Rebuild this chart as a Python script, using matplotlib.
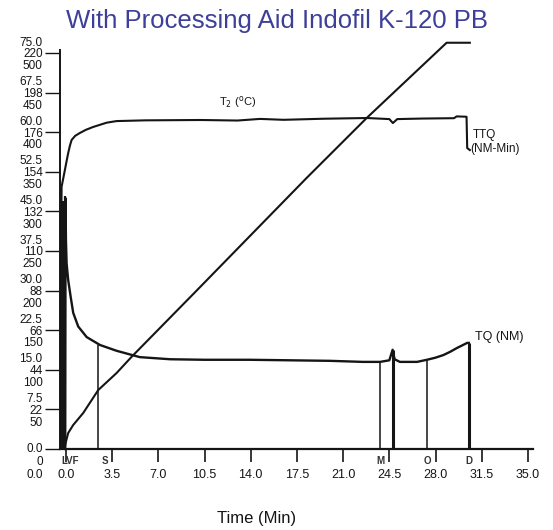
import numpy as np
import matplotlib
matplotlib.use("Agg")
import matplotlib.pyplot as plt
from matplotlib.transforms import ScaledTranslation, blended_transform_factory

plt.rcParams['font.family'] = ['Liberation Sans', 'DejaVu Sans']

# --- datos ---
# par motor TQ (NM) frente al tiempo (min)
time_tq = [-0.06, -0.03, 0.0, 0.05, 0.17, 0.36, 0.55, 0.93, 1.57, 2.58, 3.84, 5.6, 7.9,
           10.5, 13.9, 17.0, 20.0, 22.5, 23.8, 24.5, 24.75, 24.9, 25.3, 26.6, 27.35,
           28.0, 28.6, 29.1, 29.6, 30.0, 30.4, 30.52]
tq_nm = [0, 47.5, 39.6, 35.2, 32.0, 28.8, 25.8, 23.2, 21.2, 19.7, 18.6, 17.4, 17.0,
         16.9, 16.9, 16.8, 16.7, 16.5, 16.5, 16.8, 18.8, 17.0, 16.5, 16.5, 16.9,
         17.3, 17.8, 18.4, 19.1, 19.6, 20.1, 20.1]

# temperatura T2 (C)
time_temp = [-0.36, -0.33, -0.2, -0.08, 0.05, 0.17, 0.3, 0.43, 0.7, 1.06, 1.5, 2.05, 3.08,
             3.84, 6.0, 10.2, 13.0, 14.7, 16.5, 19.5, 22.8, 24.5, 24.77, 25.1, 27.0, 29.4,
             29.6, 30.35, 30.4, 30.6]
temp_c = [118, 145.7, 150.5, 155.0, 160.0, 164.4, 168.5, 171.7, 174.0, 175.6, 177.3, 178.9,
          181.3, 182.2, 182.6, 182.8, 182.5, 183.4, 182.9, 183.5, 183.9, 183.3, 181.1, 183.3,
          183.6, 183.8, 184.8, 184.6, 167.2, 166.1]

# par total TTQ (NM-Min)
time_ttq = [-0.08, -0.04, 0.0, 0.17, 0.55, 1.31, 2.45, 3.84, 4.98, 9.87, 18.23, 22.78, 28.84, 30.6]
ttq_nmmin = [2, 6, 9.2, 20.2, 30.3, 45.5, 74.5, 96.0, 116.5, 199.5, 342.2, 417.9, 513.0, 513.0]

# eventos (L, V, F, S, M, -, O, D)
event_names = ['L', 'V', 'F', 'S', 'M', '', 'O', 'D']
event_times = [-0.38, -0.22, -0.06, 2.45, 23.8, 24.75, 27.35, 30.52]
event_tq = [46, 47, 48, 19.7, 16.5, 18.8, 16.9, 20.1]
event_thick = [1.6, 1.6, 1.6, 1.1, 1.1, 2.2, 1.1, 2.2]

# etiquetas de los ejes
x_ticks = [0.0, 3.5, 7.0, 10.5, 14.0, 17.5, 21.0, 24.5, 28.0, 31.5, 35.0]
tq_ticks = ['0.0', '7.5', '15.0', '22.5', '30.0', '37.5', '45.0', '52.5', '60.0', '67.5', '75.0']
temp_ticks = ['0', '22', '44', '66', '88', '110', '132', '154', '176', '198', '220']
ttq_ticks = ['0.0', '50', '100', '150', '200', '250', '300', '350', '400', '450', '500']

ink = '#151515'
TQ_MAX = 75.5

fig = plt.figure(figsize=(5.53, 5.30), dpi=100)
ax = fig.add_axes([60 / 553, 81 / 530, 473.2 / 553, 398.6 / 530])
ax.set_xlim(-0.45, 35.4)
ax.set_ylim(0, TQ_MAX)

ax_t = ax.twinx()
ax_t.set_ylim(0, TQ_MAX * 220 / 75)
ax_t.axis('off')
ax_q = ax.twinx()
ax_q.set_ylim(0, TQ_MAX * 500 / 75)
ax_q.axis('off')

ax.plot(time_tq, tq_nm, color=ink, lw=1.7, clip_on=False)
ax_t.plot(time_temp, temp_c, color=ink, lw=1.5, clip_on=False)
ax_q.plot(time_ttq, ttq_nmmin, color=ink, lw=1.5, clip_on=False)

for t, h, w in zip(event_times, event_tq, event_thick):
    ax.plot([t, t], [0, h], color=ink, lw=w, solid_capstyle='butt', clip_on=False)

# letras de eventos bajo el eje
tb = blended_transform_factory(ax.transData, ax.transAxes)
ax.text(0.3, -0.031, 'LVF', transform=tb, ha='center', va='center', fontsize=7,
        fontweight='bold', color='#333333')
for name, t in zip(event_names[3:], event_times[3:]):
    if name:
        dx = 0.5 if name == 'S' else 0.0
        ax.text(t + dx, -0.031, name, transform=tb, ha='center', va='center', fontsize=7,
                fontweight='bold', color='#333333')

# ejes
for s in ['top', 'right']:
    ax.spines[s].set_visible(False)
ax.spines['left'].set_linewidth(1.4)
ax.spines['bottom'].set_linewidth(1.6)
ax.spines['left'].set_color(ink)
ax.spines['bottom'].set_color(ink)

ax.set_yticks(np.arange(0, 75.1, 7.5))
ax.set_yticklabels(['%s\n%s\n%s' % z for z in zip(tq_ticks, temp_ticks, ttq_ticks)],
                   linespacing=0.98)
ax.tick_params(axis='y', direction='out', length=10.5, width=1.0, pad=2, labelsize=8.5,
               colors=ink)
lab0 = ax.get_yticklabels()[0]
lab0.set_va('top')
lab0.set_linespacing(1.08)
lab0.set_transform(lab0.get_transform() + ScaledTranslation(0, 4 / 72, fig.dpi_scale_trans))

ax.set_xticks(x_ticks)
ax.set_xticklabels(['%.1f' % v for v in x_ticks])
ax.tick_params(axis='x', direction='out', length=9, width=1.2, pad=5.5, labelsize=9,
               colors=ink)

# textos de las curvas
ax.text(13.0, 65.7, 'T$_2$ ($^{\\rm o}$C)', ha='center', va='center', fontsize=8, color=ink)
ax.text(30.85, 59.5, 'TTQ', ha='left', va='center', fontsize=8.5, color=ink)
ax.text(30.6, 56.8, '(NM-Min)', ha='left', va='center', fontsize=8.5, color=ink)
ax.text(31.0, 21.2, 'TQ (NM)', ha='left', va='center', fontsize=9, color=ink)

fig.text(277 / 553, 1 - 21 / 530, 'With Processing Aid Indofil K-120 PB', ha='center',
         va='center', fontsize=18.5, color='#3d3f98')
fig.text(257 / 553, 1 - 519 / 530, 'Time (Min)', ha='center', va='center', fontsize=12,
         color=ink)

fig.savefig('out.png', dpi=100)
